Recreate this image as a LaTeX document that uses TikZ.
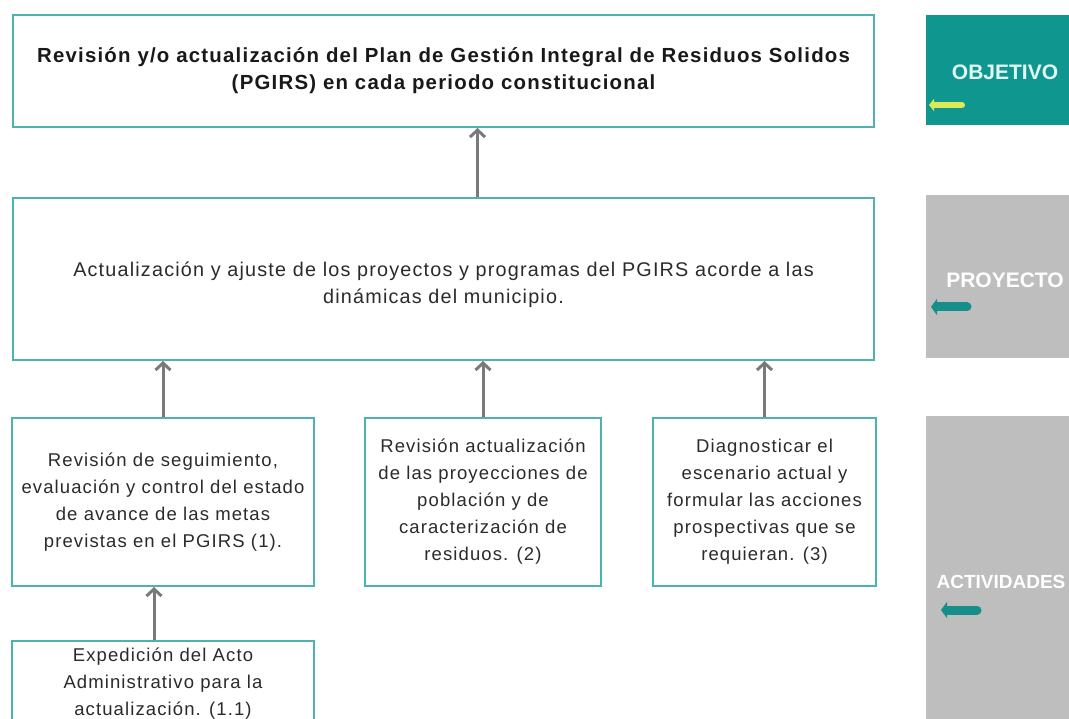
\documentclass[tikz,border=0pt]{standalone}
\usepackage{fontspec}
\setmainfont{Liberation Sans}
\newfontfamily\boxfont{Liberation Sans}[LetterSpace=6]
\usepackage{xcolor}
\usepackage{tikz}
\usetikzlibrary{arrows.meta, positioning}
\definecolor{boxline}{HTML}{4DB3AE}
\definecolor{objteal}{HTML}{0F968F}
\definecolor{objtext}{HTML}{E2F6F4}
\definecolor{panelgray}{HTML}{BEBEBE}
\definecolor{arrowgray}{HTML}{7A7A7A}
\definecolor{txtgray}{HTML}{2B2B2B}
\definecolor{tipyellow}{HTML}{DDEA55}
\definecolor{tipteal}{HTML}{168F8A}

\begin{document}
\begin{tikzpicture}[x=1pt, y=-1pt,
    box/.style={draw=boxline, line width=2pt, rectangle, fill=white, anchor=north west, align=center, inner sep=0pt, text=txtgray, font=\boxfont\fontsize{18.5}{27}\selectfont},
    topbox/.style={box, text=black!90, font=\boxfont\bfseries\fontsize{20.4}{27}\selectfont},
    panel/.style={rectangle, anchor=north west, minimum width=160pt, inner sep=0pt},
    paneltext/.style={text=white, font=\bfseries\fontsize{21}{24}\selectfont},
    arrow/.style={draw=arrowgray, line width=3pt, -{Straight Barb[length=7pt, width=15pt]}},
    tip/.style={line width=9pt, line cap=round, -{Triangle[length=6pt, width=16pt]}}
]
    \clip (0,0) rectangle (1069,719);

    \node (objetivo) [topbox, minimum width=861pt, minimum height=112pt] at (12,14) {Revisión y/o actualización del Plan de Gestión Integral de Residuos Solidos\\(PGIRS) en cada periodo constitucional};
    \node (proyecto) [box, minimum width=861pt, minimum height=162pt, font=\boxfont\fontsize{19.8}{27}\selectfont] at (12,197) {\rule{0pt}{27pt}Actualización y ajuste de los proyectos y programas del PGIRS acorde a las\\dinámicas del municipio.};
    \node (act1) [box, minimum width=302pt, minimum height=168pt] at (11,417) {Revisión de seguimiento,\\evaluación y control del estado\\de avance de las metas\\previstas en el PGIRS (1).};
    \node (act2) [box, minimum width=236pt, minimum height=168pt] at (364,417) {Revisión actualización\\de las proyecciones de\\población y de\\caracterización de\\residuos. (2)};
    \node (act3) [box, minimum width=223pt, minimum height=168pt] at (652,417) {Diagnosticar el\\escenario actual y\\formular las acciones\\prospectivas que se\\requieran. (3)};
    \node (act11) [box, minimum width=302pt, minimum height=86pt] at (11,640) {Expedición del Acto\\Administrativo para la\\actualización. (1.1)};

    \path [arrow] ([xshift=34pt]proyecto.north) -- ([xshift=34pt]objetivo.south);
    \path [arrow] (act1.north) -- (act1.north |- proyecto.south);
    \path [arrow] (act2.north) -- (act2.north |- proyecto.south);
    \path [arrow] (act3.north) -- (act3.north |- proyecto.south);
    \path [arrow] ([xshift=-9pt]act11.north) -- ([xshift=-9pt]act1.south);

    \node (pobj) [panel, fill=objteal, minimum height=110pt] at (926,15) {};
    \node (pproy) [panel, fill=panelgray, minimum height=163pt] at (926,195) {};
    \node (pact) [panel, fill=panelgray, minimum height=330pt] at (926,416) {};
    \node (lobj) [paneltext, text=objtext] at (1005,72) {OBJETIVO};
    \node (lproy) [paneltext] at (1005,280) {PROYECTO};
    \node (lact) [paneltext, font=\bfseries\fontsize{19}{24}\selectfont] at (1001,582) {ACTIVIDADES};
    \draw [tip, tipyellow, line width=6pt, -{Triangle[length=5pt, width=12pt]}] (962,105) -- (929,105);
    \draw [tip, tipteal] (967,307) -- (931,307);
    \draw [tip, tipteal] (977,610) -- (941,610);
\end{tikzpicture}
\end{document}
